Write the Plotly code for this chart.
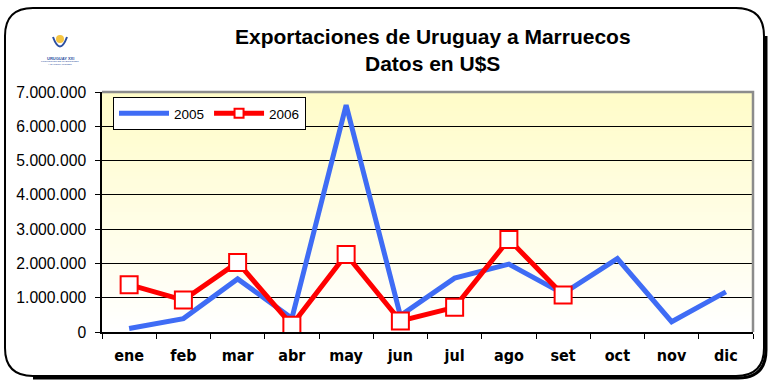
import plotly.graph_objects as go

meses = ["ene", "feb", "mar", "abr", "may", "jun", "jul", "ago", "set", "oct", "nov", "dic"]
exp_2005 = [100000, 390000, 1550000, 400000, 6620000, 480000, 1570000, 1980000, 1120000, 2140000, 300000, 1170000]
exp_2006 = [1380000, 930000, 2030000, 200000, 2260000, 320000, 720000, 2700000, 1080000]
y_ticks = [0, 1000000, 2000000, 3000000, 4000000, 5000000, 6000000, 7000000]

W, H = 770, 383
L, R, T, B = 102, 753, 92, 332

AZUL = "#3F6CF5"
ROJO = "#FF0000"


def px(x):
    return (x - L) / (R - L)


def py(y):
    return (B - y) / (B - T)


fig = go.Figure()
fig.add_trace(go.Scatter(
    x=meses, y=exp_2005, name="2005", mode="lines",
    line=dict(color=AZUL, width=5),
))
fig.add_trace(go.Scatter(
    x=meses[:len(exp_2006)], y=exp_2006, name="2006", mode="lines+markers",
    line=dict(color=ROJO, width=5), showlegend=False,
    marker=dict(symbol="square", size=17, color="white", line=dict(color=ROJO, width=2)),
))
# legend entry for 2006 with a smaller marker sample
fig.add_trace(go.Scatter(
    x=[None], y=[None], name="2006", mode="lines+markers",
    line=dict(color=ROJO, width=5),
    marker=dict(symbol="square", size=9, color="white", line=dict(color=ROJO, width=2)),
))

shapes = []
# soft yellow gradient behind the plot area
n = 60
top_c = (255, 252, 200)
for i in range(n):
    f = i / (n - 1)
    c = tuple(int(round(top_c[k] + (255 - top_c[k]) * f)) for k in range(3))
    shapes.append(dict(type="rect", xref="paper", yref="paper",
                       x0=0, x1=1, y0=1 - (i + 1) / n, y1=1 - i / n + 0.001,
                       fillcolor="rgb(%d,%d,%d)" % c, line=dict(width=0), layer="below"))

# gray frame on top and right of plot area
shapes.append(dict(type="path", xref="paper", yref="paper",
                   path="M 0,1 L 1,1 L 1,0", line=dict(color="#8C8C8C", width=2.5), layer="above"))

# rounded outer border
x0, x1, y0, y1, r = 5, 764, 8, 376, 28


def border_path():
    a, b, c, d = x0, x1, y0, y1
    pts = [
        ("M", a + r, c), ("L", b - r, c), ("Q", b, c, b, c + r), ("L", b, d - r),
        ("Q", b, d, b - r, d), ("L", a + r, d), ("Q", a, d, a, d - r), ("L", a, c + r),
        ("Q", a, c, a + r, c),
    ]
    s = ""
    for p in pts:
        if p[0] == "Q":
            s += "Q %f,%f %f,%f " % (px(p[1]), py(p[2]), px(p[3]), py(p[4]))
        else:
            s += "%s %f,%f " % (p[0], px(p[1]), py(p[2]))
    return s + "Z"


shapes.append(dict(type="path", xref="paper", yref="paper", path=border_path(),
                   line=dict(color="black", width=2), layer="above"))
# heavier shadow along right and bottom
sd = 2
sp = "M %f,%f L %f,%f Q %f,%f %f,%f L %f,%f" % (
    px(x1 + sd), py(y0 + r), px(x1 + sd), py(y1 + sd - r),
    px(x1 + sd), py(y1 + sd), px(x1 + sd - r), py(y1 + sd),
    px(x0 + r), py(y1 + sd))
shapes.append(dict(type="path", xref="paper", yref="paper", path=sp,
                   line=dict(color="black", width=3), layer="above"))

# small emblem
shapes.append(dict(type="circle", xref="paper", yref="paper",
                   x0=px(56), x1=px(64), y0=py(43), y1=py(35),
                   fillcolor="#F5C542", line=dict(width=0)))
shapes.append(dict(type="path", xref="paper", yref="paper",
                   path="M %f,%f Q %f,%f %f,%f" % (px(53), py(37), px(60), py(56), px(67), py(37)),
                   line=dict(color="#2D4FA0", width=2)))

annotations = [
    dict(text="<b>Exportaciones de Uruguay a Marruecos</b>", x=px(433), y=py(37), xref="paper", yref="paper",
         xanchor="center", yanchor="middle",
         showarrow=False, font=dict(size=21, color="black", family="Arial, Liberation Sans")),
    dict(text="<b>Datos en U$S</b>", x=px(433), y=py(63), xref="paper", yref="paper",
         xanchor="center", yanchor="middle",
         showarrow=False, font=dict(size=21, color="black", family="Arial, Liberation Sans")),
    dict(text="<b>URUGUAY XXI</b>", x=px(60), y=py(58), xref="paper", yref="paper",
         xanchor="center", yanchor="middle",
         showarrow=False, font=dict(size=4, color="#2D4FA0", family="Arial")),
    dict(text="PROMOCIÓN DE INVERSIONES<br>Y EXPORTACIONES", x=px(60), y=py(63), xref="paper", yref="paper",
         xanchor="center", yanchor="middle",
         showarrow=False, font=dict(size=2.5, color="#2D4FA0", family="Arial")),
]

fig.update_layout(
    width=W, height=H,
    margin=dict(l=L, r=W - R, t=T, b=H - B, pad=0),
    paper_bgcolor="white",
    plot_bgcolor="rgba(0,0,0,0)",
    separators=",.",
    font=dict(family="Arial, Liberation Sans", color="black"),
    shapes=shapes,
    annotations=annotations,
    showlegend=True,
    legend=dict(orientation="h", x=px(113), y=py(97), xanchor="left", yanchor="top",
                bgcolor="white", bordercolor="black", borderwidth=1,
                font=dict(size=13.5, color="black"), itemwidth=50,
                tracegroupgap=0),
    xaxis=dict(
        type="category", categoryorder="array", categoryarray=meses,
        range=[-0.5, 11.5], tickson="boundaries", ticks="outside", ticklen=5,
        tickcolor="black", showline=True, linecolor="black", linewidth=1.5,
        showgrid=False, ticklabelstandoff=8,
        tickfont=dict(size=16, family="Liberation Sans Narrow, DejaVu Sans Condensed, Arial", color="black"),
        tickprefix="<b>", ticksuffix="</b>",
    ),
    yaxis=dict(
        range=[0, 7000000], tickvals=y_ticks, tickformat=",d",
        ticks="outside", ticklen=5, tickcolor="black",
        showline=True, linecolor="black", linewidth=1.5,
        showgrid=True, gridcolor="black", gridwidth=1,
        ticklabelstandoff=6,
        zeroline=False, tickfont=dict(size=15.7, color="black"),
    ),
)

fig.write_html("out.html")
